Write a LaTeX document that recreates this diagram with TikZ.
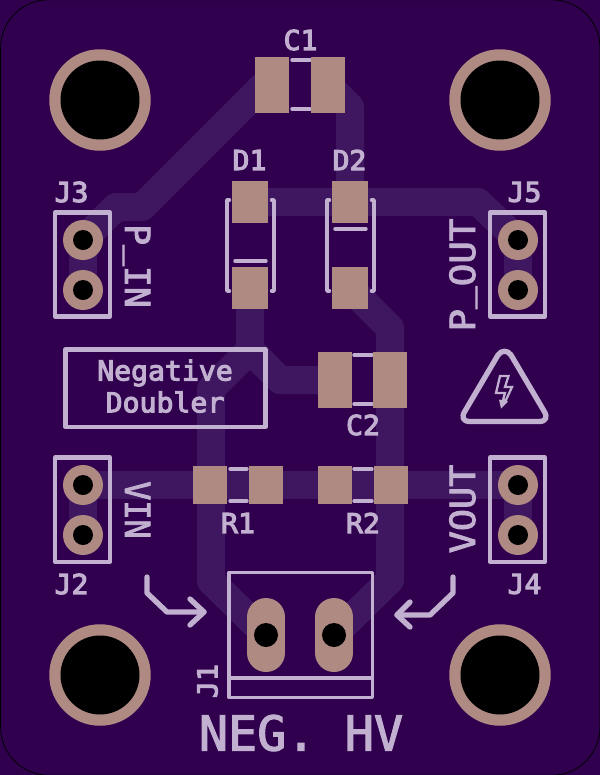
\documentclass[tikz,border=0pt]{standalone}
\usepackage{fontspec}
\newfontfamily\silkreg[FakeBold=4,FakeStretch=1.03]{DejaVu Sans Mono}
\newfontfamily\silkbig[FakeBold=2.6,FakeStretch=1.03]{DejaVu Sans Mono}
\newfontfamily\silkhuge[FakeBold=2.4,FakeStretch=1.01]{DejaVu Sans Mono}
\definecolor{board}{HTML}{30004F}
\definecolor{copper}{HTML}{3F1760}
\definecolor{padc}{HTML}{AE8A82}
\definecolor{silkc}{HTML}{C2B0D0}
\tikzset{
  trace/.style={draw=copper,line width=21pt,line join=round,line cap=round},
  smd/.style 2 args={fill=padc,inner sep=0pt,outer sep=0pt,minimum width=#1*0.75pt,minimum height=#2*0.75pt,rectangle},
  ring/.style={circle,fill=padc,inner sep=0pt,minimum size=#1*0.75pt},
  hole/.style={circle,fill=black,inner sep=0pt,minimum size=#1*0.75pt},
  oblong/.style={line width=28.5pt,draw=padc,line cap=round},
  silk/.style={draw=silkc,line width=2.6pt,line cap=round,line join=round},
  silkarrow/.style={draw=silkc,line width=4pt,line cap=round,line join=round},
  silkbox/.style={draw=silkc,line width=3.1pt,line join=round},
  silkthin/.style={draw=silkc,line width=2.5pt,line join=round},
  lbl/.style={text=silkc,inner sep=0pt,font=\silkreg\fontsize{20.5pt}{20.5pt}\selectfont},
  lblbig/.style={text=silkc,inner sep=0pt,font=\silkbig\fontsize{26pt}{26pt}\selectfont},
}
\begin{document}
\begin{tikzpicture}[x=0.75pt,y=-0.75pt]
\useasboundingbox (0,0) rectangle (600,775);
\fill[board] (0,0) rectangle (600,775);
\draw[black,line width=0.6pt,rounded corners=36pt] (0.6,-0.2) rectangle (600,775.2);

% pad centres
\coordinate (pc1a) at (272,85);
\coordinate (pc1b) at (328,85);
\coordinate (pd1a) at (250,202);
\coordinate (pd1b) at (250,288);
\coordinate (pd2a) at (350,202);
\coordinate (pd2b) at (350,288);
\coordinate (pc2a) at (335,380);
\coordinate (pc2b) at (390,380);
\coordinate (pr1a) at (210,485);
\coordinate (pr1b) at (266,485);
\coordinate (pr2a) at (335,485);
\coordinate (pr2b) at (391,485);
\coordinate (pj3a) at (83,240);
\coordinate (pj3b) at (83,290);
\coordinate (pj5a) at (518,240);
\coordinate (pj5b) at (518,290);
\coordinate (pj2a) at (83,485);
\coordinate (pj2b) at (83,535);
\coordinate (pj4a) at (518,485);
\coordinate (pj4b) at (518,535);
\coordinate (pj1a) at (266,635);
\coordinate (pj1b) at (334,635);

% traces
\draw[trace] (pj3a) -- (116,207) -- (142,207) -- (264,85) -- (pc1a);
\draw[trace] (pj3a) -- (pj3b);
\draw[trace] (pc1b) -- (350,107) -- (pd2a);
\draw[trace] (pd1a) -- (pd2a) -- (478,202) -- (pj5a);
\draw[trace] (pj5a) -- (pj5b);
\draw[trace] (pd1b) -- (250,350) -- (280,380) -- (pc2a);
\draw[trace] (250,350) -- (211,389) -- (211,581) -- (pj1a);
\draw[trace] (pd2b) -- (390,328) -- (390,580) -- (pj1b);
\draw[trace] (pj2a) -- (pj4a);
\draw[trace] (pj2a) -- (pj2b);
\draw[trace] (pj4a) -- (pj4b);

% silkscreen: parts
\draw[silk] (292,60) -- (310,60) (292,109) -- (310,109);
\draw[silk] (354,355) -- (372,355) (354,404) -- (372,404);
\draw[silk] (230,469) -- (247,469) (230,501) -- (247,501);
\draw[silk] (354,469) -- (372,469) (354,501) -- (372,501);
\draw[silk] (229.5,200) -- (227,200) -- (227,291) -- (229.5,291);
\draw[silk] (271.5,200) -- (274,200) -- (274,291) -- (271.5,291);
\draw[silk] (329.5,200) -- (327,200) -- (327,291) -- (329.5,291);
\draw[silk] (371.5,200) -- (374,200) -- (374,291) -- (371.5,291);
\draw[silk] (235,261) -- (266,261);
\draw[silk] (335,229) -- (366,229);
\draw[silkbox] (55,212.5) rectangle (110,316.5);
\draw[silkbox] (490,212.5) rectangle (545,316.5);
\draw[silkbox] (55,457.5) rectangle (110,562);
\draw[silkbox] (490,457.5) rectangle (545,562);
\draw[silkbox] (65.5,349.5) rectangle (265.5,427);
\draw[silkthin] (229,572.5) rectangle (372.5,697.5);
\draw[silkthin] (229,678) -- (372.5,678);

% silkscreen: arrows
\draw[silkarrow] (147,577) -- (147,593) -- (167,612) -- (204,612);
\draw[silkarrow] (190,599) -- (204,612) -- (190,625);
\draw[silkarrow] (453,577) -- (453,593) -- (430,615) -- (397,615);
\draw[silkarrow] (410,602) -- (397,615) -- (410,627);

% silkscreen: warning sign
\draw[silkarrow] (498,355) .. controls (501,350) and (508,350) .. (511,355)
  -- (544,411) .. controls (548,417) and (546,421.5) .. (539,421.5)
  -- (470,421.5) .. controls (463,421.5) and (461,417) .. (465,411) -- cycle;
\draw[silkc,line width=1.7pt,line join=miter] (500,376) -- (508.5,376) -- (505,387) -- (512,387)
  -- (506,400) -- (503,400) -- (505,393) -- (496,393) -- cycle;
\fill[silkc] (508,401.5) -- (501,408.5) -- (499,399.5) -- cycle;

% pads
\node[smd={34}{56}] (C1a) at (pc1a) {};
\node[smd={34}{56}] (C1b) at (pc1b) {};
\node[smd={36}{42}] (D1a) at (pd1a) {};
\node[smd={36}{42}] (D1b) at (pd1b) {};
\node[smd={36}{42}] (D2a) at (pd2a) {};
\node[smd={36}{42}] (D2b) at (pd2b) {};
\node[smd={34}{56}] (C2a) at (pc2a) {};
\node[smd={34}{56}] (C2b) at (pc2b) {};
\node[smd={34}{38}] (R1a) at (pr1a) {};
\node[smd={34}{38}] (R1b) at (pr1b) {};
\node[smd={34}{38}] (R2a) at (pr2a) {};
\node[smd={34}{38}] (R2b) at (pr2b) {};
\foreach \p in {pj3a,pj3b,pj5a,pj5b,pj2a,pj2b,pj4a,pj4b}{
  \node[ring=40] (r\p) at (\p) {};
  \node[hole=20] (h\p) at (\p) {};
}
\draw[oblong] (266,617) -- (266,653);
\draw[oblong] (334,617) -- (334,653);
\node[hole=24] (hj1a) at (pj1a) {};
\node[hole=24] (hj1b) at (pj1b) {};
\foreach \n/\x/\y in {tl/100/100,tr/500/100,bl/100/675,br/500/675}{
  \node[ring=101.5] (m\n) at (\x,\y) {};
  \node[hole=79] (k\n) at (\x,\y) {};
}

% labels
\node[lbl] (tC1) at (300.5,40) {C1};
\node[lbl] (tD1) at (249.5,160) {D1};
\node[lbl] (tD2) at (349.5,160) {D2};
\node[lbl] (tJ3) at (71.5,192) {J3};
\node[lbl] (tJ5) at (524.5,192) {J5};
\node[lbl] (tC2) at (363,425) {C2};
\node[lbl] (tR1) at (238,523) {R1};
\node[lbl] (tR2) at (363,523) {R2};
\node[lbl] (tJ2) at (71.5,584) {J2};
\node[lbl] (tJ4) at (524.5,584) {J4};
\node[lbl,rotate=90] (tJ1) at (207.5,681) {J1};
\node[lbl] (tNeg) at (165,373) {Negative};
\node[lbl] (tDou) at (165,402) {Doubler};
\node[lblbig,rotate=-90,anchor=base] (tPin) at (125,266) {\scalebox{0.97}[1]{P\raisebox{4.5pt}{\_}IN}};
\node[lblbig,rotate=-90,anchor=base] (tVin) at (125,510) {\scalebox{0.89}[1]{VIN}};
\node[lblbig,rotate=90,anchor=base] (tPout) at (475,275) {\scalebox{1.05}[1]{P\raisebox{4.5pt}{\_}OUT}};
\node[lblbig,rotate=90,anchor=base] (tVout) at (475,509) {\scalebox{1.03}[1]{VOUT}};
\node[text=silkc,inner sep=0pt,font=\silkhuge\fontsize{36pt}{36pt}\selectfont] (tHv) at (301,733) {NEG. HV};
\end{tikzpicture}
\end{document}
